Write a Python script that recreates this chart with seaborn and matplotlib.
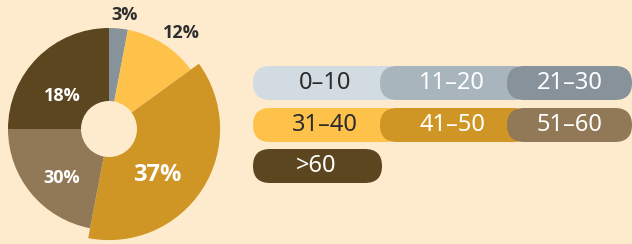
import matplotlib
matplotlib.use("Agg")
import matplotlib.pyplot as plt
from matplotlib.patches import Circle, FancyBboxPatch
import seaborn as sns

# age groups and colours
groups = ['0–10', '11–20', '21–30', '31–40', '41–50', '51–60', '>60']
colors = ['#D2DBE2', '#A8B5BC', '#87929A', '#FEC24A', '#CF9626', '#917856', '#5C4620']
text_dark = [True, False, False, True, False, False, False]

# slices shown in the donut (share of circle as drawn) and their printed labels
slice_groups = ['21–30', '31–40', '41–50', '51–60', '>60']
slice_share = [3, 12, 38, 22, 25]
slice_labels = ['3%', '12%', '37%', '30%', '18%']

BG = '#FEEBCD'
sns.set_theme(style='white', rc={'figure.facecolor': BG, 'axes.facecolor': BG})
plt.rcParams['font.family'] = ['Noto Sans', 'DejaVu Sans']

fig = plt.figure(figsize=(6.32, 2.44), dpi=100)
ax = fig.add_axes([0, 0, 1, 1])

pal = dict(zip(groups, colors))
cx, cy, r = 109, 115, 101
wedges, _ = ax.pie(slice_share, colors=[pal[g] for g in slice_groups],
                   startangle=90, counterclock=False, radius=r, center=(cx, cy),
                   frame=True, wedgeprops=dict(linewidth=0))
wedges[2].set_radius(r * 1.1)
ax.add_patch(Circle((cx, cy), 28, facecolor=BG, edgecolor='none', zorder=5))
ax.set_xlim(0, 632)
ax.set_ylim(0, 244)
ax.set_aspect('equal')
ax.axis('off')

label_pos = [(125, 229), (181, 211), (157, 69), (62, 66), (62, 148)]
label_col = ['#2E2E2E', '#2E2E2E', 'white', 'white', 'white']
label_size = [13, 13, 17, 13, 13]
for t, (x, y), c, s in zip(slice_labels, label_pos, label_col, label_size):
    ax.text(x, y, t, ha='center', va='center', color=c, fontsize=s,
            fontweight='bold', family=['Open Sans', 'DejaVu Sans'], zorder=6)

# legend pills
pill_x = [253, 380, 507]
pill_w = [150, 150, 125]
pill_y = [144, 102, 61]
text_x = [325, 452, 570]
ph = 34
for i, g in enumerate(groups):
    row, col = divmod(i, 3)
    x0, y0 = pill_x[col], pill_y[row]
    pw = pill_w[col] if g != '>60' else 129
    ax.add_patch(FancyBboxPatch((x0, y0), pw, ph,
                                boxstyle='round,pad=0,rounding_size=17',
                                facecolor=pal[g], edgecolor='none',
                                zorder=2 + i * 0.01, clip_on=False))
    tx = text_x[col] if g != '>60' else 316
    ax.text(tx, y0 + ph / 2, g, ha='center', va='center', fontsize=17,
            color='#2B2B2B' if text_dark[i] else 'white', zorder=3)

fig.savefig('out.png', dpi=100, facecolor=BG)
